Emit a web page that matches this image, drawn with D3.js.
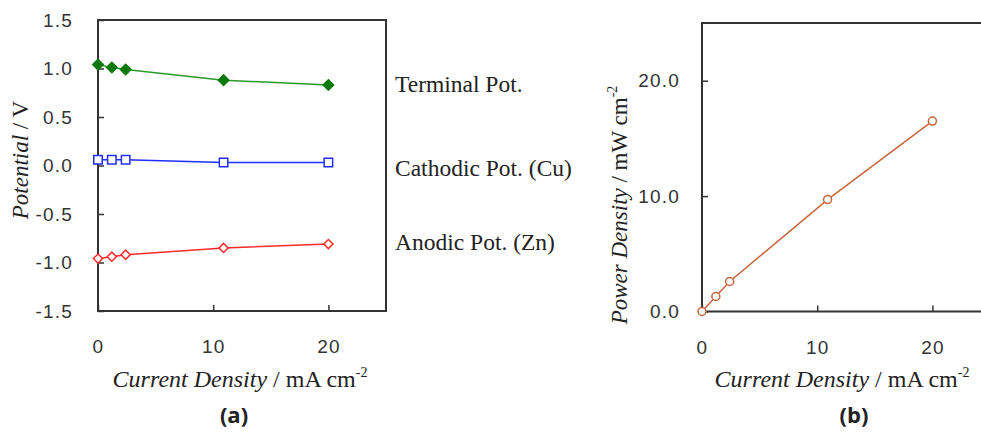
<!DOCTYPE html>
<html>
<head>
<meta charset="utf-8">
<script src="https://cdn.jsdelivr.net/npm/d3@7"></script>
<style>
  body { margin: 0; background: #fff; }
  .tick text { font-family: "Liberation Sans", sans-serif; font-size: 19px; letter-spacing: 1.2px; fill: #333; }
  .domain { display: none; }
  .tick line { stroke: #333; stroke-width: 1.5; }
</style>
</head>
<body>
<div id="chart"></div>
<script>
// Data
var currentDensity = [0, 1.2, 2.4, 10.9, 20];
var terminalPot = [1.04, 1.01, 0.99, 0.88, 0.83];
var cathodicPot = [0.06, 0.06, 0.06, 0.03, 0.03];
var anodicPot = [-0.96, -0.94, -0.92, -0.85, -0.81];
var powerDensity = [0, 1.3, 2.6, 9.7, 16.5];

var seriesNames = ["Terminal Pot.", "Cathodic Pot. (Cu)", "Anodic Pot. (Zn)"];
var xTicks = [0, 10, 20];
var yTicksA = [-1.5, -1.0, -0.5, 0.0, 0.5, 1.0, 1.5];
var yTicksB = [0, 10, 20];

var SERIF = "'Liberation Serif', 'Times New Roman', serif";
var W = 981, H = 433;

var svg = d3.select("#chart").append("svg")
    .attr("width", W)
    .attr("height", H);

// serif text helper, parts = [[text, italic, superscript], ...]
function serifText(g, parts, size) {
  var t = g.append("text")
      .style("font-family", SERIF)
      .style("font-size", (size || 23) + "px")
      .style("fill", "#222");
  parts.forEach(function(p) {
    var ts = t.append("tspan")
        .style("font-family", SERIF)
        .style("font-style", p[1] ? "italic" : "normal")
        .text(p[0]);
    if (p[2]) ts.attr("dy", -10).style("font-size", "14px");
  });
  return t;
}

// ---------- panel (a) ----------
var xa = d3.scaleLinear().domain([0, 25]).range([98, 386]);
var ya = d3.scaleLinear().domain([-1.5, 1.5]).range([311, 20]);

var ga = svg.append("g");

ga.append("g")
    .attr("transform", "translate(0,311)")
    .call(d3.axisBottom(xa).tickValues(xTicks).tickSizeInner(-6).tickSizeOuter(0).tickPadding(29).tickFormat(d3.format("d")));

ga.append("g")
    .attr("transform", "translate(98,0)")
    .call(d3.axisLeft(ya).tickValues(yTicksA).tickSizeInner(-6).tickSizeOuter(0).tickPadding(25)
      .tickFormat(function(d) { return d.toFixed(1); }));

ga.append("rect")
    .attr("x", 98).attr("y", 20)
    .attr("width", 386 - 98).attr("height", 311 - 20)
    .attr("fill", "none").attr("stroke", "#333").attr("stroke-width", 2);

var lineA = function(vals) {
  return d3.line()
    .x(function(d, i) { return xa(currentDensity[i]); })
    .y(function(d) { return ya(d); })(vals);
};

// diamonds are squares turned 45 degrees
var seriesA = [
  {name: seriesNames[0], vals: terminalPot, color: "#2a9a2a", mark: "#0b7a0b", rot: 45, fill: true, size: 55, labelY: 92},
  {name: seriesNames[1], vals: cathodicPot, color: "#1f2fff", mark: "#1f2fff", rot: 0, fill: false, size: 72, labelY: 176},
  {name: seriesNames[2], vals: anodicPot, color: "#ff2a2a", mark: "#ff2a2a", rot: 45, fill: false, size: 42, labelY: 250}
];

seriesA.forEach(function(s) {
  ga.append("path")
      .attr("d", lineA(s.vals))
      .attr("fill", "none")
      .attr("stroke", s.color)
      .attr("stroke-width", 1.5);

  ga.selectAll(null)
      .data(s.vals)
    .enter().append("path")
      .attr("d", d3.symbol().type(d3.symbolSquare).size(s.size))
      .attr("transform", function(d, i) { return "translate(" + xa(currentDensity[i]) + "," + ya(d) + ") rotate(" + s.rot + ")"; })
      .attr("fill", s.fill ? s.mark : "#fff")
      .attr("stroke", s.mark)
      .attr("stroke-width", 1.5);

  serifText(ga, [[s.name, false]], 23.5)
      .attr("x", 395)
      .attr("y", s.labelY);
});

// axis titles (a)
serifText(ga, [["Current Density", true], [" / mA cm", false], ["-2", false, true]], 24)
    .attr("x", 240).attr("y", 387).attr("text-anchor", "middle");

serifText(ga, [["Potential", true], [" / V", false]])
    .attr("transform", "translate(28,160) rotate(-90)")
    .attr("text-anchor", "middle");

ga.append("text")
    .style("font-family", "'Open Sans', sans-serif").style("font-weight", "bold").style("font-size", "22px").style("fill", "#222")
    .attr("x", 234).attr("y", 423).attr("text-anchor", "middle").text("(a)");

// ---------- panel (b) ----------
var xb = d3.scaleLinear().domain([0, 25]).range([702, 990]);
var yb = d3.scaleLinear().domain([0, 25]).range([311.5, 23]);

var gb = svg.append("g");

gb.append("g")
    .attr("transform", "translate(0,311.5)")
    .call(d3.axisBottom(xb).tickValues(xTicks).tickSizeInner(-6).tickSizeOuter(0).tickPadding(29).tickFormat(d3.format("d")));

gb.append("g")
    .attr("transform", "translate(702,0)")
    .call(d3.axisLeft(yb).tickValues(yTicksB).tickSizeInner(-6).tickSizeOuter(0).tickPadding(22)
      .tickFormat(function(d) { return d.toFixed(1); }));

gb.append("rect")
    .attr("x", 702).attr("y", 23)
    .attr("width", 990 - 702).attr("height", 311.5 - 23)
    .attr("fill", "none").attr("stroke", "#333").attr("stroke-width", 2);

gb.append("path")
    .attr("d", d3.line()
      .x(function(d, i) { return xb(currentDensity[i]); })
      .y(function(d) { return yb(d); })(powerDensity))
    .attr("fill", "none")
    .attr("stroke", "#c8643c")
    .attr("stroke-width", 1.5);

gb.selectAll(null)
    .data(powerDensity)
  .enter().append("circle")
    .attr("cx", function(d, i) { return xb(currentDensity[i]); })
    .attr("cy", function(d) { return yb(d); })
    .attr("r", 4)
    .attr("fill", "#fff")
    .attr("stroke", "#c8643c")
    .attr("stroke-width", 1.5);

serifText(gb, [["Current Density", true], [" / mA cm", false], ["-2", false, true]], 24)
    .attr("x", 842).attr("y", 387).attr("text-anchor", "middle");

serifText(gb, [["Power Density", true], [" / mW cm", false], ["-2", false, true]])
    .attr("transform", "translate(627,205) rotate(-90)")
    .attr("text-anchor", "middle");

gb.append("text")
    .style("font-family", "'Open Sans', sans-serif").style("font-weight", "bold").style("font-size", "22px").style("fill", "#222")
    .attr("x", 854).attr("y", 423).attr("text-anchor", "middle").text("(b)");
</script>
</body>
</html>
